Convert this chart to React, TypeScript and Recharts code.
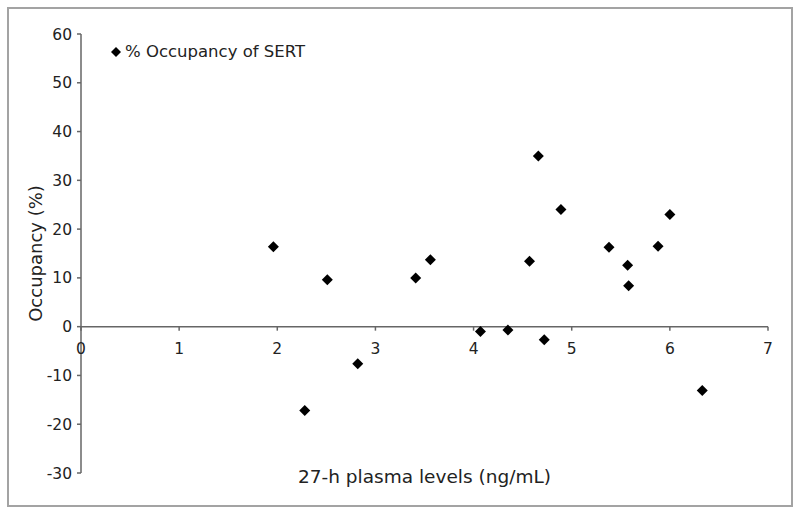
import {
  ScatterChart, Scatter, XAxis, YAxis, ReferenceLine, ReferenceDot, Legend,
} from 'recharts'

// 27-h plasma levels (ng/mL)
const plasma = [1.96, 2.28, 2.51, 2.82, 3.41, 3.56, 4.07, 4.35, 4.57, 4.66, 4.72, 4.89, 5.38, 5.57, 5.58, 5.88, 6.0, 6.33]
// % occupancy of SERT
const occupancy = [16.4, -17.2, 9.6, -7.6, 10.0, 13.7, -1.0, -0.7, 13.4, 35.0, -2.7, 24.0, 16.3, 12.6, 8.4, 16.5, 23.0, -13.1]

const xTicks = [0, 1, 2, 3, 4, 5, 6, 7]
const yTicks = [-30, -20, -10, 0, 10, 20, 30, 40, 50, 60]

const data = plasma.map((x, i) => ({ x, y: occupancy[i] }))

const FONT = '"DejaVu Sans", Verdana, sans-serif'
const AXIS = '#666'
const TEXT = '#222'

const Diamond = (p: any) => (
  <path
    d={`M${p.cx},${p.cy - 5.5}L${p.cx + 5.5},${p.cy}L${p.cx},${p.cy + 5.5}L${p.cx - 5.5},${p.cy}Z`}
    fill="#000"
  />
)

const XTitle = ({ viewBox }: any) => (
  <text
    x={viewBox.x + viewBox.width / 2}
    y={viewBox.y + 3}
    textAnchor="middle"
    dominantBaseline="central"
    fontFamily={FONT}
    fontSize={18.5}
    fill={TEXT}
  >
    27-h plasma levels (ng/mL)
  </text>
)

const YTitle = ({ viewBox }: any) => {
  const cx = viewBox.x + 35
  const cy = viewBox.y + viewBox.height / 2
  return (
    <text
      x={cx}
      y={cy}
      transform={`rotate(-90 ${cx} ${cy})`}
      textAnchor="middle"
      dominantBaseline="central"
      fontFamily={FONT}
      fontSize={18}
      fill={TEXT}
    >
      Occupancy (%)
    </text>
  )
}

// tick mark + label hanging under the zero line
const xTickAt = (v: number) => (p: any) => (
  <g>
    <line x1={p.cx} y1={p.cy} x2={p.cx} y2={p.cy + 4} stroke={AXIS} strokeWidth={1.5} />
    <text
      x={p.cx}
      y={p.cy + 22}
      textAnchor="middle"
      dominantBaseline="central"
      fontFamily={FONT}
      fontSize={15.5}
      fill={TEXT}
    >
      {v}
    </text>
  </g>
)

const LegendBox = ({ payload }: any) => (
  <div style={{ display: 'flex', alignItems: 'center', fontFamily: FONT, fontSize: 16.5, lineHeight: '19px', color: TEXT }}>
    {(payload || []).map((e: any) => (
      <span key={e.value} style={{ display: 'flex', alignItems: 'center' }}>
        <svg width={12} height={12} style={{ marginRight: 3 }}>
          <path d="M6,1L11,6L6,11L1,6Z" fill="#000" />
        </svg>
        {e.value}
      </span>
    ))}
  </div>
)

export default function App() {
  return (
    <div style={{ position: 'absolute', left: 0, top: 0, width: 800, height: 515, background: '#fff' }}>
      <div
        style={{
          position: 'absolute', left: 7, top: 7, width: 782, height: 496,
          border: '2px solid #a3a3a3', pointerEvents: 'none',
        }}
      />
      <ScatterChart width={800} height={515} margin={{ top: 34, right: 32, bottom: 0, left: 0 }}>
        <XAxis
          type="number"
          dataKey="x"
          domain={[0, 7]}
          ticks={xTicks}
          height={42}
          axisLine={false}
          tickLine={false}
          tick={false}
          label={<XTitle />}
        />
        <YAxis
          type="number"
          dataKey="y"
          domain={[-30, 60]}
          ticks={yTicks}
          width={81}
          axisLine={{ stroke: AXIS, strokeWidth: 1.5 }}
          tickLine={{ stroke: AXIS, strokeWidth: 1.5 }}
          tickSize={4}
          tickMargin={5}
          tick={{ fontFamily: FONT, fontSize: 15.5, fill: TEXT }}
          label={<YTitle />}
        />
        <ReferenceLine y={0} stroke={AXIS} strokeWidth={1.5} />
        {xTicks.map((v) => (
          <ReferenceDot key={v} x={v} y={0} r={0} ifOverflow="visible" shape={xTickAt(v)} />
        ))}
        <Legend
          layout="horizontal"
          verticalAlign="middle"
          align="center"
          content={<LegendBox />}
          wrapperStyle={{ position: 'absolute', left: 110, top: 42, width: 'auto' }}
        />
        <Scatter
          name="% Occupancy of SERT"
          data={data}
          shape={Diamond}
          isAnimationActive={false}
        />
      </ScatterChart>
    </div>
  )
}
